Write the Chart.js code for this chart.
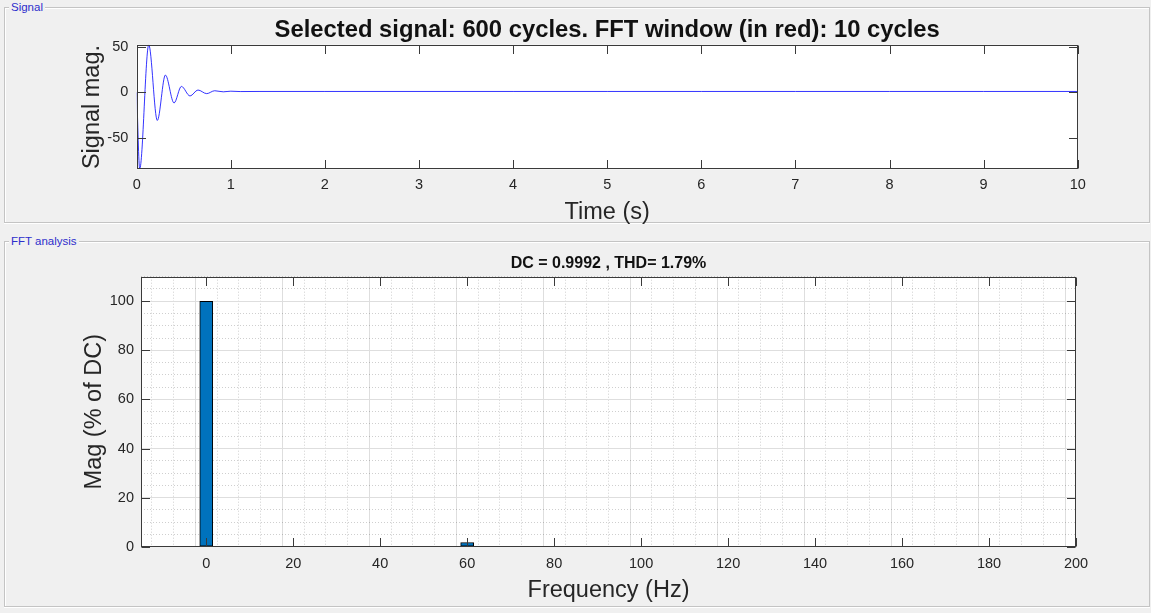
<!DOCTYPE html>
<html><head><meta charset="utf-8">
<script src="https://cdn.jsdelivr.net/npm/chart.js@4/dist/chart.umd.min.js"></script>
<style>
html,body{margin:0;padding:0;background:#f0f0f0;width:1151px;height:613px;overflow:hidden;font-family:"Liberation Sans",Arial,sans-serif;}
.ln{position:absolute;background:#c4c4c4;}
.hl{position:absolute;background:#ffffff;}
.lg{position:absolute;font-size:11.5px;font-family:"Liberation Sans",Arial,sans-serif;color:#2e2ecc;background:#f0f0f0;padding:0 2px;line-height:13px;white-space:nowrap;}
canvas{position:absolute;left:0;}
#c1{top:0;}
#c2{top:226px;}
</style></head><body>
<!-- Signal panel frame -->
<div class="ln" style="left:4px;top:7px;width:1146px;height:1px"></div>
<div class="hl" style="left:5px;top:8px;width:1144px;height:1px"></div>
<div class="ln" style="left:4px;top:7px;width:1px;height:216px"></div>
<div class="hl" style="left:5px;top:8px;width:1px;height:214px"></div>
<div class="ln" style="left:4px;top:222px;width:1146px;height:1px"></div>
<div class="hl" style="left:4px;top:223px;width:1146px;height:1px"></div>
<div class="ln" style="left:1149px;top:7px;width:1px;height:216px"></div>
<div class="lg" style="left:9px;top:1px;">Signal</div>
<!-- FFT panel frame -->
<div class="ln" style="left:4px;top:241px;width:1146px;height:1px"></div>
<div class="hl" style="left:5px;top:242px;width:1144px;height:1px"></div>
<div class="ln" style="left:4px;top:241px;width:1px;height:366px"></div>
<div class="hl" style="left:5px;top:242px;width:1px;height:364px"></div>
<div class="ln" style="left:4px;top:606px;width:1146px;height:1px"></div>
<div class="hl" style="left:4px;top:607px;width:1146px;height:1px"></div>
<div class="ln" style="left:1149px;top:241px;width:1px;height:366px"></div>
<div class="lg" style="left:9px;top:235px;">FFT analysis</div>

<canvas id="c1" width="1151" height="230"></canvas>
<canvas id="c2" width="1151" height="380"></canvas>
<script>
// ---------- data ----------
const timeS      = [0, 0.032, 0.128, 0.219, 0.305, 0.397, 0.475, 0.567, 0.651, 0.744, 0.829, 0.92, 1.0, 1.1, 1.3, 2, 3, 4, 5, 6, 7, 8, 9, 10];
const signalMag  = [0, -84.5, 52.5, -31, 19.1, -11.7, 6.6, -4.0, 2.6, -1.4, 1.8, 0.6, 1.3, 0.9, 1, 1, 1, 1, 1, 1, 1, 1, 1, 1];
const timeTicks  = [0, 1, 2, 3, 4, 5, 6, 7, 8, 9, 10];
const sigTicks   = [-50, 0, 50];

const freqHz     = [0, 60];
const magPctDC   = [100, 1.7];
const freqTicks  = [0, 20, 40, 60, 80, 100, 120, 140, 160, 180, 200];
const magTicks   = [0, 20, 40, 60, 80, 100];

const titleTop   = 'Selected signal: 600 cycles. FFT window (in red): 10 cycles';
const titleFFT   = 'DC = 0.9992 , THD= 1.79%';

// ---------- common ----------
Chart.defaults.font.family = "'Liberation Sans', Arial, sans-serif";
Chart.defaults.color = '#262626';
const TXT = '#262626';

const inTicks = {
  id: 'inTicks',
  beforeDraw(chart) {
    const {ctx, chartArea: a} = chart;
    ctx.save(); ctx.fillStyle = '#ffffff';
    ctx.fillRect(a.left, a.top, a.right - a.left, a.bottom - a.top);
    ctx.restore();
  },
  afterDatasetsDraw(chart, args, opts) {
    const {ctx, chartArea: a, scales} = chart;
    const L = Math.round(a.left) + 0.5, R = Math.round(a.right) - 0.5;
    const T = Math.round(a.top) + 0.5, B = Math.round(a.bottom) - 0.5;
    ctx.save();
    ctx.strokeStyle = opts.color; ctx.lineWidth = 1;
    ctx.beginPath();
    for (const v of opts.xTicks) {
      const p = Math.round(scales.x.getPixelForValue(v)) + 0.5;
      ctx.moveTo(p, B); ctx.lineTo(p, B - opts.len);
      ctx.moveTo(p, T); ctx.lineTo(p, T + opts.len);
    }
    for (const v of opts.yTicks) {
      const p = Math.round(scales.y.getPixelForValue(v)) + 0.5;
      ctx.moveTo(L, p); ctx.lineTo(L + opts.len, p);
      ctx.moveTo(R, p); ctx.lineTo(R - opts.len, p);
    }
    ctx.stroke();
    ctx.strokeRect(L, T, R - L, B - T);
    ctx.restore();
  }
};

function fixW(w) { return s => { s.width = w; s.paddingTop = 0; s.paddingBottom = 0; }; }
function fixH(h) { return s => { s.height = h; s.paddingLeft = 0; s.paddingRight = 0; }; }

// ---------- top: signal ----------
new Chart(document.getElementById('c1'), {
  type: 'line',
  data: {
    datasets: [{
      data: timeS.map((t, i) => ({x: t, y: signalMag[i]})),
      borderColor: 'rgba(0,0,255,0.8)',
      borderWidth: 1,
      pointRadius: 0,
      cubicInterpolationMode: 'monotone',
      fill: false
    }]
  },
  options: {
    responsive: false, animation: false,
    layout: { padding: { left: 0, right: 73.3, top: 0, bottom: 0 } },
    plugins: {
      legend: { display: false }, tooltip: { enabled: false },
      title: { display: true, fullSize: false, text: titleTop, color: '#111',
               font: { size: 23.8, weight: 'bold' }, padding: { top: 16, bottom: 0.2 } },
      inTicks: { xTicks: timeTicks, yTicks: sigTicks, len: 8.5, color: '#3a3a3a' }
    },
    scales: {
      x: {
        type: 'linear', min: 0, max: 10,
        ticks: { stepSize: 1, includeBounds: false, autoSkip: false, maxRotation: 0,
                 padding: 7, color: TXT, font: { size: 14.5 } },
        grid: { display: false, drawTicks: false },
        border: { display: false },
        title: { display: true, text: 'Time (s)', color: TXT, font: { size: 23.5 },
                 padding: { top: 0, bottom: 3 } },
        afterFit: fixH(60.7)
      },
      y: {
        type: 'linear', min: -85, max: 52.6,
        ticks: { stepSize: 50, includeBounds: false, autoSkip: false,
                 padding: 8.4, color: TXT, font: { size: 14.5 } },
        grid: { display: false, drawTicks: false },
        border: { display: false },
        title: { display: true, text: 'Signal mag.', color: TXT, font: { size: 23.5 },
                 padding: { top: 78.5, bottom: 0 } },
        afterFit: fixW(136.7)
      }
    }
  },
  plugins: [inTicks]
});

// ---------- bottom: FFT ----------
new Chart(document.getElementById('c2'), {
  type: 'bar',
  data: {
    datasets: [{
      data: freqHz.map((f, i) => ({x: f, y: magPctDC[i]})),
      backgroundColor: '#0072BD',
      borderColor: '#000000',
      borderWidth: 1,
      borderSkipped: false,
      barThickness: 13
    }]
  },
  options: {
    responsive: false, animation: false,
    layout: { padding: { left: 0, right: 75, top: 0, bottom: 0 } },
    plugins: {
      legend: { display: false }, tooltip: { enabled: false },
      title: { display: true, fullSize: false, text: titleFFT, color: '#111',
               font: { size: 16, weight: 'bold' }, padding: { top: 28.2, bottom: 3.3 } },
      inTicks: { xTicks: freqTicks, yTicks: magTicks, len: 8.5, color: '#3a3a3a' }
    },
    scales: {
      x: {
        type: 'linear', min: -15, max: 200, offset: false,
        ticks: { stepSize: 5, includeBounds: false, autoSkip: false, maxRotation: 0,
                 padding: 8.4, color: TXT, font: { size: 14.5 },
                 callback: v => (freqTicks.includes(v) ? String(v) : '') },
        grid: { display: true, drawTicks: false, lineWidth: 1,
                color: c => (c.tick && freqTicks.includes(c.tick.value)) ? '#dedede' : 'rgba(38,38,38,0.22)' },
        border: { display: false,
                  dash: c => (c.tick && !freqTicks.includes(c.tick.value)) ? [1, 2] : [] },
        title: { display: true, text: 'Frequency (Hz)', color: TXT, font: { size: 23.5 },
                 padding: { top: 0, bottom: 1 } },
        afterFit: fixH(59.3)
      },
      y: {
        type: 'linear', min: 0, max: 110,
        ticks: { stepSize: 5, includeBounds: false, autoSkip: false,
                 padding: 7, color: TXT, font: { size: 14.5 },
                 callback: v => (magTicks.includes(v) ? String(v) : '') },
        grid: { display: true, drawTicks: false, lineWidth: 1,
                color: c => (c.tick && magTicks.includes(c.tick.value)) ? '#dedede' : 'rgba(38,38,38,0.22)' },
        border: { display: false,
                  dash: c => (c.tick && !magTicks.includes(c.tick.value)) ? [1, 2] : [] },
        title: { display: true, text: 'Mag (% of DC)', color: TXT, font: { size: 23.5 },
                 padding: { top: 80, bottom: 0 } },
        afterFit: fixW(141)
      }
    }
  },
  plugins: [inTicks]
});
</script>
</body></html>
